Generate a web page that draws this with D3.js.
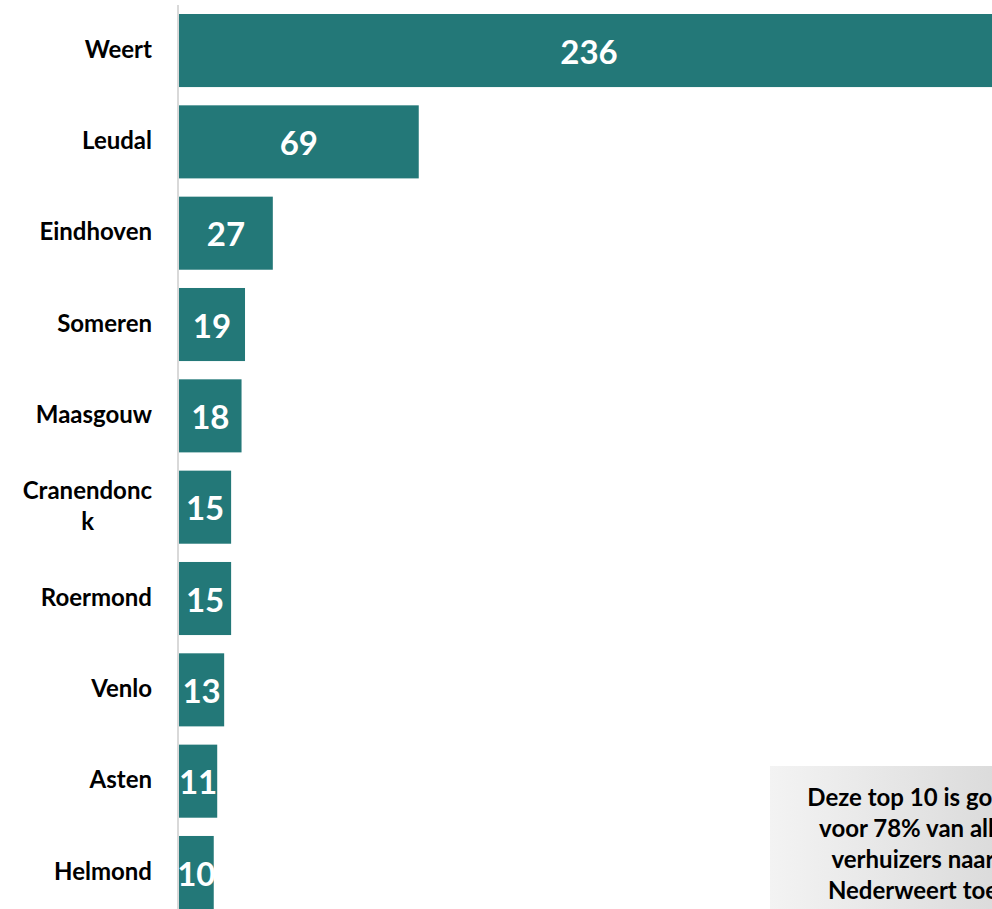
<!DOCTYPE html>
<html>
<head>
<meta charset="utf-8">
<script src="https://cdn.jsdelivr.net/npm/d3@7"></script>
<style>
html,body{margin:0;padding:0;background:#fff;overflow:hidden;}
svg{display:block;font-family:Lato, "Open Sans", sans-serif;}
</style>
</head>
<body>
<svg id="chart" width="992" height="909"></svg>
<script>
const categories = ["Weert","Leudal","Eindhoven","Someren","Maasgouw","Cranendonck","Roermond","Venlo","Asten","Helmond"];
const labelLines = [["Weert"],["Leudal"],["Eindhoven"],["Someren"],["Maasgouw"],["Cranendonc","k"],["Roermond"],["Venlo"],["Asten"],["Helmond"]];
const values = [236,69,27,19,18,15,15,13,11,10];
const noteLines = ["Deze top 10 is goed","voor 78% van alle","verhuizers naar","Nederweert toe"];

const svg = d3.select("#chart");
const W = 992, H = 909;
const x = d3.scaleLinear().domain([0,236]).range([179,999]);
const step = 91.33;
const y = d3.scaleBand().domain(categories).range([14 - 0.1*step, 14 - 0.1*step + 10*step]).paddingInner(0.2).paddingOuter(0.1);

// axis line
svg.append("line").attr("x1",178).attr("x2",178).attr("y1",5).attr("y2",H)
  .attr("stroke","#d9d9d9").attr("stroke-width",2);

svg.selectAll("rect.bar").data(values).join("rect").attr("class","bar")
  .attr("x",x(0)).attr("y",(d,i)=>y(categories[i]))
  .attr("width",d=>x(d)-x(0)).attr("height",y.bandwidth())
  .attr("fill","#237878");

svg.selectAll("text.val").data(values).join("text").attr("class","val")
  .attr("x",d=>(x(0)+x(d))/2)
  .attr("y",(d,i)=>y(categories[i])+y.bandwidth()/2+13)
  .attr("text-anchor","middle").attr("fill","#fff")
  .attr("font-size",33).attr("font-weight","bold")
  .text(d=>d);

const lab = svg.selectAll("text.cat").data(labelLines).join("text").attr("class","cat")
  .attr("text-anchor","end").attr("font-size",24).attr("font-weight","bold").attr("fill","#000");
lab.each(function(lines,i){
  const t = d3.select(this);
  const cy = y(categories[i]) + y.bandwidth()/2;
  const lh = 31;
  const y0 = cy - (lines.length-1)*lh/2 + 7;
  lines.forEach((l,j)=>{
    t.append("tspan").attr("x", j===0 ? 152 : 84).attr("text-anchor", j===0?"end":"middle").attr("y", y0 + j*lh).text(l);
  });
});
lab.filter(d=>d.length>1).each(function(){
  const t = d3.select(this);
  const first = t.select("tspan").node();
  const bb = first.getBBox();
  t.selectAll("tspan").filter((d,j,n)=>j>0).attr("x", bb.x + bb.width/2);
});

// note box
const defs = svg.append("defs");
const g = defs.append("linearGradient").attr("id","gr").attr("x1","0").attr("x2","1").attr("y1","0").attr("y2","0");
g.append("stop").attr("offset","0").attr("stop-color","#f3f3f3");
g.append("stop").attr("offset","1").attr("stop-color","#cfcfcf");
svg.append("rect").attr("x",770).attr("y",766).attr("width",340).attr("height",160).attr("fill","url(#gr)");
const nt = svg.append("text").attr("text-anchor","middle").attr("font-size",24).attr("font-weight","bold").attr("fill","#000");
noteLines.forEach((l,i)=>{
  nt.append("tspan").attr("x",913).attr("y",806 + i*31).text(l);
});
</script>
</body>
</html>
